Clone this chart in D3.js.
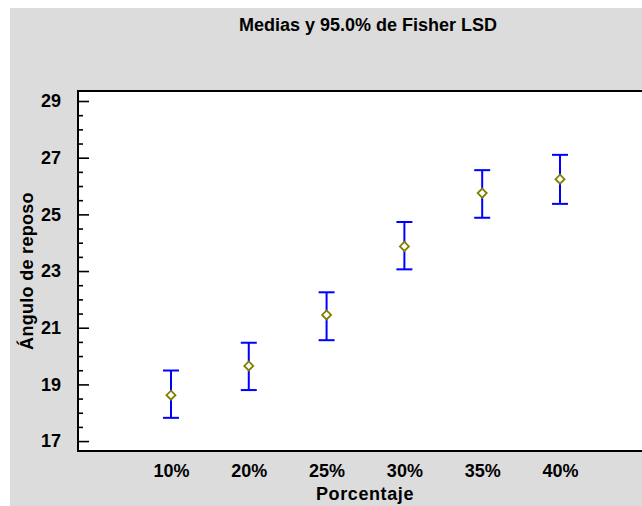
<!DOCTYPE html>
<html>
<head>
<meta charset="utf-8">
<script src="https://cdn.jsdelivr.net/npm/d3@7"></script>
<style>
  html, body { margin: 0; padding: 0; background: #ffffff; }
  svg { display: block; }
  text { font-family: "Liberation Sans", Arial, sans-serif; font-weight: bold; fill: #000; }
</style>
</head>
<body>
<svg id="chart" width="642" height="506"></svg>
<script>
// ---- data ----
const categories = ["10%", "20%", "25%", "30%", "35%", "40%"];
const means = [18.62, 19.65, 21.45, 23.87, 25.75, 26.24];
const lower = [17.82, 18.80, 20.56, 23.06, 24.88, 25.37];
const upper = [19.49, 20.47, 22.25, 24.73, 26.56, 27.10];
const yTicks = [17, 19, 21, 23, 25, 27, 29];

const title = "Medias y 95.0% de Fisher LSD";
const xTitle = "Porcentaje";
const yTitle = "Ángulo de reposo";

// ---- layout ----
const W = 642, H = 506;
const plot = { left: 78, top: 91, right: 644, bottom: 451 };

const svg = d3.select("#chart");

// gray background
svg.append("rect")
  .attr("x", 10).attr("y", 8)
  .attr("width", W - 10).attr("height", H - 8)
  .attr("fill", "#dcdcdc");

// plot area
svg.append("rect")
  .attr("x", plot.left).attr("y", plot.top)
  .attr("width", plot.right - plot.left).attr("height", plot.bottom - plot.top)
  .attr("fill", "#ffffff")
  .attr("stroke", "#000").attr("stroke-width", 2);

const x = d3.scaleLinear().domain([-1.195, 6.054]).range([plot.left, 642]);
const y = d3.scaleLinear().domain([16.65, 29.353]).range([plot.bottom, plot.top]);

// y minor ticks
const minor = d3.range(17, 29.01, 0.5).filter(v => !yTicks.includes(v));
svg.append("g")
  .attr("transform", `translate(${plot.left},0)`)
  .call(d3.axisLeft(y).tickValues(minor).tickSize(-5).tickFormat(""))
  .call(g => g.select(".domain").remove())
  .call(g => g.selectAll("line").attr("stroke", "#000").attr("stroke-width", 1.6));

// y major ticks + labels
svg.append("g")
  .attr("transform", `translate(${plot.left},0)`)
  .call(d3.axisLeft(y).tickValues(yTicks).tickSize(-11).tickPadding(17).tickFormat(d3.format("d")))
  .call(g => g.select(".domain").remove())
  .call(g => g.selectAll("line").attr("stroke", "#000").attr("stroke-width", 1.6))
  .call(g => g.selectAll("text")
    .attr("fill", "#000")
    .style("font-family", '"Liberation Sans", Arial, sans-serif')
    .style("font-weight", "bold")
    .style("font-size", "18px"));

// x labels
svg.append("g")
  .attr("transform", `translate(0,${plot.bottom})`)
  .call(d3.axisBottom(x).tickValues(d3.range(categories.length)).tickSize(0).tickPadding(13)
        .tickFormat(i => categories[i]))
  .call(g => g.select(".domain").remove())
  .call(g => g.selectAll("text")
    .attr("fill", "#000")
    .style("font-family", '"Liberation Sans", Arial, sans-serif')
    .style("font-weight", "bold")
    .style("font-size", "18px"));

// error bars
const capHalf = 8;
const bars = svg.append("g").attr("stroke", "#0000ff").attr("stroke-width", 2).attr("fill", "none");
categories.forEach((c, i) => {
  const cx = x(i);
  bars.append("line").attr("x1", cx).attr("x2", cx).attr("y1", y(lower[i])).attr("y2", y(upper[i]));
  bars.append("line").attr("x1", cx - capHalf).attr("x2", cx + capHalf).attr("y1", y(lower[i])).attr("y2", y(lower[i]));
  bars.append("line").attr("x1", cx - capHalf).attr("x2", cx + capHalf).attr("y1", y(upper[i])).attr("y2", y(upper[i]));
});

// mean markers
const diamond = d3.symbol().type(d3.symbolDiamond2).size(52);
svg.append("g").selectAll("path")
  .data(means)
  .join("path")
  .attr("transform", (d, i) => `translate(${x(i)},${y(d)})`)
  .attr("d", diamond)
  .attr("fill", "#ffffff")
  .attr("stroke", "#808000")
  .attr("stroke-width", 1.8);

// titles
svg.append("text")
  .attr("x", 368).attr("y", 31)
  .attr("text-anchor", "middle")
  .style("font-size", "18px")
  .text(title);

svg.append("text")
  .attr("x", 365).attr("y", 500)
  .attr("text-anchor", "middle")
  .style("font-size", "18px")
  .style("letter-spacing", "0.6px")
  .text(xTitle);

svg.append("text")
  .attr("transform", `translate(33,${(plot.top + plot.bottom) / 2}) rotate(-90)`)
  .attr("text-anchor", "middle")
  .style("font-size", "18px")
  .style("letter-spacing", "0.3px")
  .text(yTitle);
</script>
</body>
</html>
